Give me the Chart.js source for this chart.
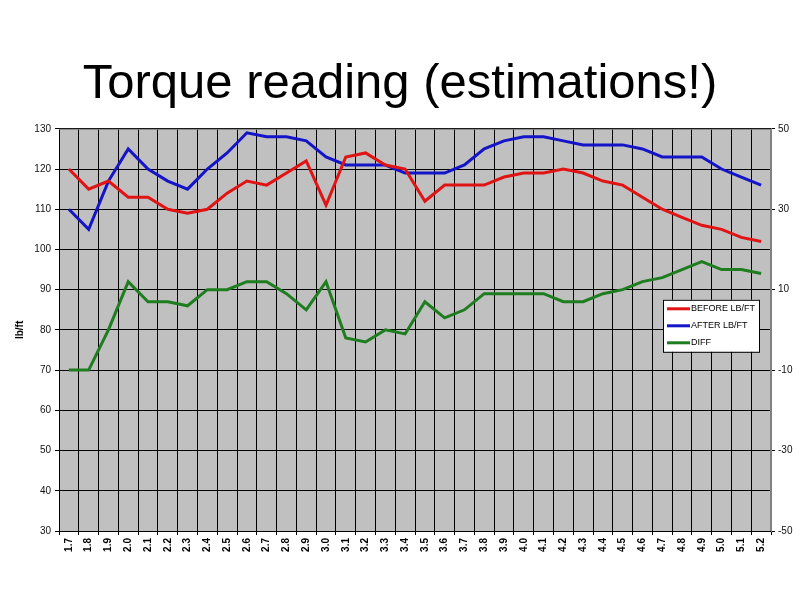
<!DOCTYPE html>
<html>
<head>
<meta charset="utf-8">
<script src="https://cdn.jsdelivr.net/npm/chart.js@4/dist/chart.umd.min.js"></script>
<style>
  html, body { margin: 0; padding: 0; background: #ffffff; }
  #wrap { width: 800px; height: 600px; }
</style>
</head>
<body>
<div id="wrap"><canvas id="c" width="800" height="600"></canvas></div>
<script>
const categories = ['1.7','1.8','1.9','2.0','2.1','2.2','2.3','2.4','2.5','2.6','2.7','2.8','2.9','3.0','3.1','3.2','3.3','3.4','3.5','3.6','3.7','3.8','3.9','4.0','4.1','4.2','4.3','4.4','4.5','4.6','4.7','4.8','4.9','5.0','5.1','5.2'];
const beforeLbFt = [120,115,117,113,113,110,109,110,114,117,116,119,122,111,123,124,121,120,112,116,116,116,118,119,119,120,119,117,116,113,110,108,106,105,103,102];
const afterLbFt  = [110,105,117,125,120,117,115,120,124,129,128,128,127,123,121,121,121,119,119,119,121,125,127,128,128,127,126,126,126,125,123,123,123,120,118,116];
const diffValues = [-10,-10,0,12,7,7,6,10,10,12,12,9,5,12,-2,-3,0,-1,7,3,5,9,9,9,9,7,7,9,10,12,13,15,17,15,15,14];
const seriesLabels = ['BEFORE LB/FT', 'AFTER LB/FT', 'DIFF'];
const titleText = 'Torque reading (estimations!)';
const leftAxisTitle = 'lb/ft';

const FONT = "'Liberation Sans', Arial, sans-serif";

const plotBg = {
  id: 'plotBg',
  beforeDraw(chart) {
    const a = chart.chartArea, ctx = chart.ctx;
    ctx.save();
    ctx.fillStyle = '#c0c0c0';
    ctx.fillRect(a.left, a.top, a.right - a.left, a.bottom - a.top);
    ctx.restore();
  },
  beforeDatasetsDraw(chart) {
    const a = chart.chartArea, ctx = chart.ctx;
    ctx.save();
    ctx.strokeStyle = '#808080';
    ctx.lineWidth = 1;
    ctx.beginPath();
    ctx.moveTo(a.left, a.top + 0.5);
    ctx.lineTo(a.right - 0.5, a.top + 0.5);
    ctx.lineTo(a.right - 0.5, a.bottom);
    ctx.stroke();
    ctx.restore();
  }
};

const boxLegend = {
  id: 'boxLegend',
  afterDraw(chart) {
    const a = chart.chartArea, ctx = chart.ctx;
    const x = a.right - 108, y = a.top + 171, w = 96, h = 52;
    ctx.save();
    ctx.fillStyle = '#ffffff';
    ctx.fillRect(x, y, w, h);
    ctx.strokeStyle = '#000000';
    ctx.lineWidth = 1;
    ctx.strokeRect(x + 0.5, y + 0.5, w, h);
    ctx.font = '9px ' + FONT;
    ctx.textBaseline = 'middle';
    ctx.textAlign = 'left';
    chart.data.datasets.forEach((ds, i) => {
      const yy = y + 9 + i * 17;
      ctx.strokeStyle = ds.borderColor;
      ctx.lineWidth = 3;
      ctx.beginPath();
      ctx.moveTo(x + 4, yy);
      ctx.lineTo(x + 27, yy);
      ctx.stroke();
      ctx.fillStyle = '#000000';
      ctx.fillText(ds.label, x + 28, yy);
    });
    ctx.restore();
  }
};

new Chart(document.getElementById('c'), {
  type: 'line',
  data: {
    labels: categories,
    datasets: [
      { label: seriesLabels[0], data: beforeLbFt, borderColor: '#e01414', yAxisID: 'y' },
      { label: seriesLabels[1], data: afterLbFt, borderColor: '#1414c8', yAxisID: 'y' },
      { label: seriesLabels[2], data: diffValues, borderColor: '#1e7d1e', yAxisID: 'y2' }
    ]
  },
  options: {
    responsive: false,
    animation: false,
    layout: { padding: 0 },
    elements: {
      line: { borderWidth: 3, tension: 0, fill: false },
      point: { radius: 0, hoverRadius: 0 }
    },
    plugins: {
      legend: { display: false },
      tooltip: { enabled: false },
      title: {
        display: true,
        text: titleText,
        color: '#000000',
        font: { family: FONT, size: 49, weight: 'normal', lineHeight: 1.2 },
        padding: { top: 55, bottom: 15 }
      }
    },
    scales: {
      x: {
        offset: true,
        grid: { offset: true, color: '#000000', lineWidth: 1, tickLength: 4, drawTicks: true },
        border: { color: '#000000' },
        ticks: {
          autoSkip: false, minRotation: 90, maxRotation: 90, padding: 3,
          color: '#000000',
          font: { family: FONT, size: 10, weight: 'bold' }
        },
        afterFit(scale) { scale.height = 69; }
      },
      y: {
        position: 'left',
        min: 30, max: 130,
        ticks: { stepSize: 10, color: '#111111', padding: 4, font: { family: FONT, size: 10 } },
        grid: { color: '#000000', lineWidth: 1, tickLength: 4 },
        border: { color: '#000000' },
        title: {
          display: true, text: leftAxisTitle, color: '#000000',
          font: { family: FONT, size: 10, weight: 'bold' },
          padding: { top: 14, bottom: 0 }
        },
        afterFit(scale) { scale.width = 59; }
      },
      y2: {
        position: 'right',
        min: -50, max: 50,
        ticks: { stepSize: 20, color: '#111111', padding: 3, font: { family: FONT, size: 10 } },
        grid: { drawOnChartArea: false, color: '#000000', tickLength: 4 },
        border: { color: '#808080' },
        afterFit(scale) { scale.width = 29; }
      }
    }
  },
  plugins: [plotBg, boxLegend]
});
</script>
</body>
</html>
